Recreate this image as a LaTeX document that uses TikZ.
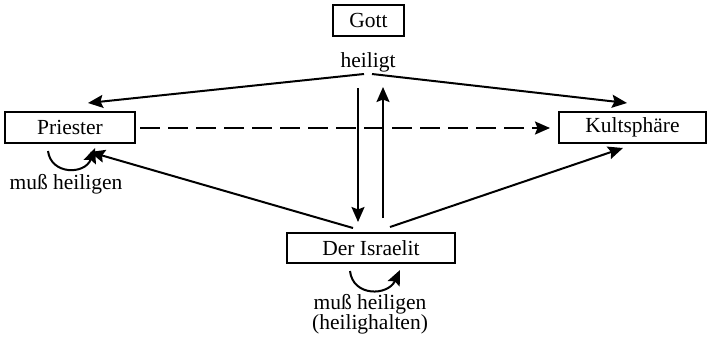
\documentclass[tikz,border=0pt]{standalone}
\usepackage{fontspec}
\setmainfont{Liberation Serif}
\usetikzlibrary{arrows.meta}
\begin{document}
\begin{tikzpicture}[x=1pt,y=-1pt,
  box/.style={draw,line width=1.6pt,inner sep=0pt,font=\fontsize{21.5}{23}\selectfont},
  lbl/.style={inner sep=0pt,font=\fontsize{21.5}{23}\selectfont},
  arr/.style={line width=2pt,-{Stealth[inset=2.5pt,length=15pt,width=13pt]}}]
\useasboundingbox (0,0) rectangle (709,338);
\node[box,minimum width=71pt,minimum height=31pt] (gott) at (368.5,20.5) {Gott};
\node[lbl] (heiligt) at (368,62) {heiligt};
\node[box,minimum width=130pt,minimum height=31pt] (priester) at (70,127.5) {Priester};
\node[box,minimum width=147pt,minimum height=31pt] (kult) at (632.5,127.5) {Kultsphäre};
\node[box,minimum width=168pt,minimum height=30pt] (isr) at (371,248) {Der Israelit};
\node[lbl] (pm) at (66,184) {muß heiligen};
\node[lbl] (im1) at (370,304) {muß heiligen};
\node[lbl] (im2) at (370,324) {(heilighalten)};
% coordinates for free ends
\coordinate (hl) at (364,74);
\coordinate (hr) at (372,74);
\coordinate (pt) at (88,103);
\coordinate (kt) at (627,103);
\coordinate (d1) at (358,88);
\coordinate (d2) at (358,222);
\coordinate (u1) at (383,218);
\coordinate (u2) at (383,87);
\coordinate (il) at (353,228);
\coordinate (ir) at (390,227);
\coordinate (pb) at (90,152);
\coordinate (kb) at (623,148);
\coordinate (ds) at (140,128);
\coordinate (de) at (550,128);
\coordinate (pl1) at (48,151);
\coordinate (pl2) at (95,148);
\coordinate (il1) at (350,271);
\coordinate (il2) at (400,270);
\draw[arr] (hl) -- (pt);
\draw[arr] (hr) -- (kt);
\draw[arr] (d1) -- (d2);
\draw[arr] (u1) -- (u2);
\draw[arr] (il) -- (pb);
\draw[arr] (ir) -- (kb);
\draw[arr,dash pattern=on 20pt off 8pt] (ds) -- (de);
\draw[arr] (pl1) .. controls (51,175) and (85,175) .. (pl2);
\draw[arr] (il1) .. controls (353,297) and (388,296) .. (il2);
\end{tikzpicture}
\end{document}
